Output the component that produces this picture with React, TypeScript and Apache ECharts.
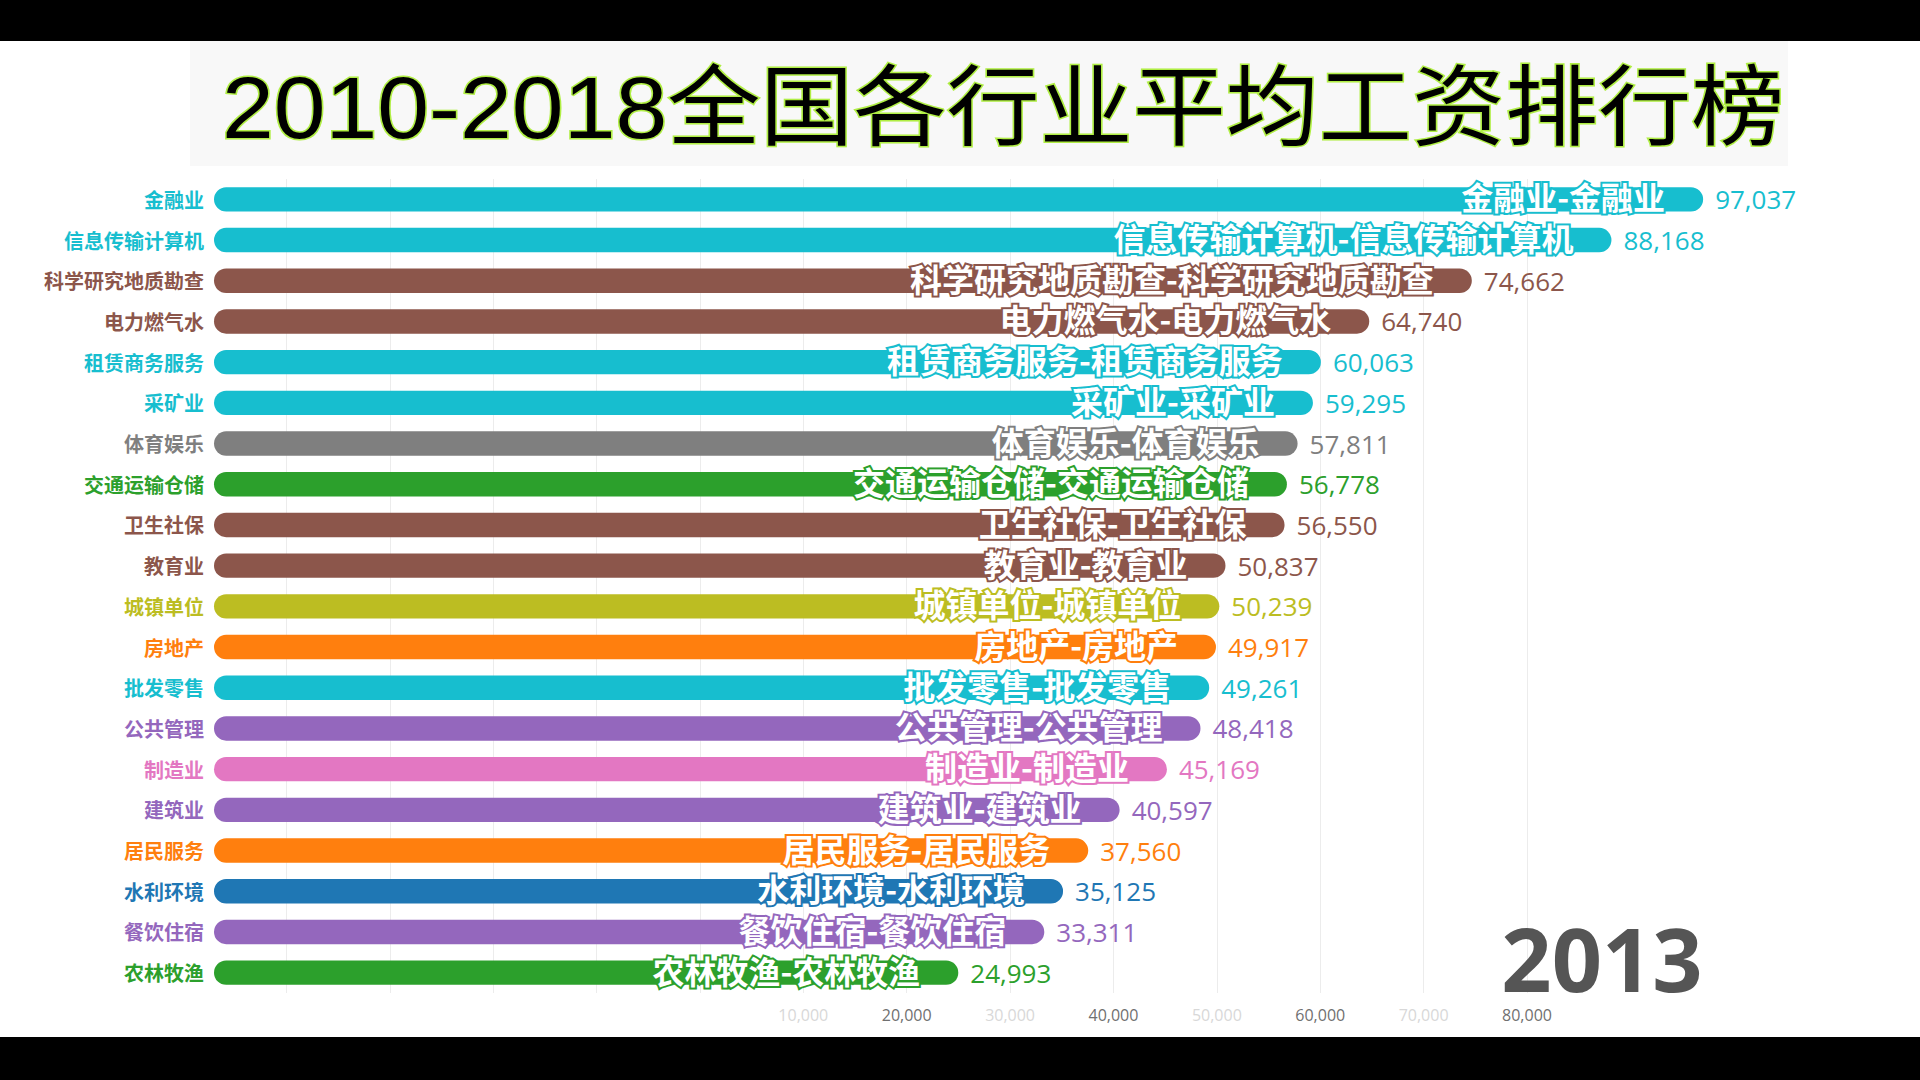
import React, { useEffect, useRef } from 'react';
import * as echarts from 'echarts';

// ---------- data ----------
const titleText = '2010-2018全国各行业平均工资排行榜';
const yearLabel = '2013';
const categories = [
  '金融业', '信息传输计算机', '科学研究地质勘查', '电力燃气水', '租赁商务服务',
  '采矿业', '体育娱乐', '交通运输仓储', '卫生社保', '教育业',
  '城镇单位', '房地产', '批发零售', '公共管理', '制造业',
  '建筑业', '居民服务', '水利环境', '餐饮住宿', '农林牧渔',
];
const wages = [
  97037, 88168, 74662, 64740, 60063,
  59295, 57811, 56778, 56550, 50837,
  50239, 49917, 49261, 48418, 45169,
  40597, 37560, 35125, 33311, 24993,
];
// ticks that are fully visible (the others are fading in)
const strongTicks = [20000, 40000, 60000, 80000];

// ---------- styles ----------
const barColors = [
  '#17becf', '#17becf', '#8c564b', '#8c564b', '#17becf',
  '#17becf', '#7f7f7f', '#2ca02c', '#8c564b', '#8c564b',
  '#bcbd22', '#ff7f0e', '#17becf', '#9467bd', '#e377c2',
  '#9467bd', '#ff7f0e', '#1f77b4', '#9467bd', '#2ca02c',
];

const fmt = (v: number) => String(Math.round(v)).replace(/\B(?=(\d{3})+(?!\d))/g, ',');
const CJK = '"Noto Sans CJK SC", "Noto Sans", sans-serif';
const NUM = '"Open Sans", "Noto Sans", sans-serif';

export default function App() {
  const ref = useRef<HTMLDivElement>(null);

  useEffect(() => {
    if (!ref.current) return;
    const chart = echarts.init(ref.current, null, { renderer: 'svg' });

    const renderItem = (params: any, api: any) => {
      const idx = params.dataIndex;
      const v = api.value(0);
      const end = api.coord([v, api.value(1)]);
      const startX = params.coordSys.x;
      const band = api.size([0, 1])[1];
      const h = band * 0.6;
      const color = barColors[idx];
      const name = categories[idx];
      return {
        type: 'group',
        children: [
          {
            type: 'rect',
            shape: { x: startX, y: end[1] - h / 2, width: end[0] - startX, height: h, r: h / 2 },
            style: { fill: color },
          },
          {
            type: 'text',
            z2: 10,
            style: {
              text: `${name}-${name}`,
              x: end[0] - 38,
              y: end[1] - 3,
              align: 'right',
              verticalAlign: 'middle',
              fill: '#ffffff',
              stroke: color,
              lineWidth: 4,
              strokeFirst: true,
              fontSize: 32,
              lineHeight: 30,
              fontWeight: 'bold',
              fontFamily: CJK,
            },
          },
          {
            type: 'text',
            z2: 10,
            style: {
              text: fmt(v),
              x: end[0] + 12,
              y: end[1],
              align: 'left',
              verticalAlign: 'middle',
              fill: color,
              fontSize: 26,
              lineHeight: 28,
              fontFamily: NUM,
            },
          },
        ],
      };
    };

    const option: any = {
      animation: false,
      backgroundColor: '#ffffff',
      grid: { left: 214, right: 393, top: 179, bottom: 87, containLabel: false },
      xAxis: {
        type: 'value',
        min: -47000,
        max: 80000,
        splitNumber: 13,
        minInterval: 10000,
        maxInterval: 10000,
        axisLine: { show: false },
        axisTick: { show: false },
        splitLine: {
          show: true,
          showMinLine: false,
          lineStyle: { color: '#ececec', width: 1 },
        },
        axisLabel: {
          margin: 14,
          fontSize: 16,
          lineHeight: 16,
          fontFamily: NUM,
          formatter: (v: number) => (v > 0 ? fmt(v) : ''),
          color: (v: any) => (strongTicks.includes(Number(v)) ? '#707070' : '#d8d8d8'),
        },
      },
      yAxis: {
        type: 'category',
        data: categories,
        inverse: true,
        axisLine: { show: false },
        axisTick: { show: false },
        splitLine: { show: false },
        axisLabel: {
          margin: 10,
          fontSize: 20,
          lineHeight: 22,
          fontWeight: 'bold',
          fontFamily: CJK,
          color: (value: any, index: number) => {
            const i = categories.indexOf(value);
            return barColors[i >= 0 ? i : index];
          },
        },
      },
      series: [
        {
          type: 'custom',
          renderItem,
          clip: false,
          encode: { x: 0, y: 1 },
          data: wages.map((v, i) => [v, i]),
        },
      ],
      graphic: [
        { type: 'rect', z: 0, shape: { x: 0, y: 0, width: 1920, height: 41 }, style: { fill: '#000000' } },
        { type: 'rect', z: 0, shape: { x: 0, y: 1037, width: 1920, height: 43 }, style: { fill: '#000000' } },
        { type: 'rect', z: 0, shape: { x: 190, y: 41, width: 1598, height: 125 }, style: { fill: '#f8f8f8' } },
        {
          type: 'text',
          z: 5,
          x: 222,
          y: 107,
          scaleX: 1.058,
          style: {
            text: titleText,
            x: 0,
            y: 0,
            align: 'left',
            verticalAlign: 'middle',
            fill: '#000000',
            stroke: '#b0ee44',
            lineWidth: 3,
            strokeFirst: true,
            fontSize: 88,
            lineHeight: 90,
            fontFamily: '"Liberation Sans", "Noto Sans CJK SC", sans-serif',
          },
        },
        {
          type: 'text',
          z: 5,
          style: {
            text: yearLabel,
            x: 1602,
            y: 958,
            align: 'center',
            verticalAlign: 'middle',
            fill: '#555555',
            fontSize: 88,
            lineHeight: 66,
            fontWeight: 'bold',
            fontFamily: NUM,
          },
        },
      ],
    };

    chart.setOption(option);
    return () => chart.dispose();
  }, []);

  return (
    <div
      ref={ref}
      style={{ position: 'fixed', left: 0, top: 0, width: 1920, height: 1080 }}
    />
  );
}
